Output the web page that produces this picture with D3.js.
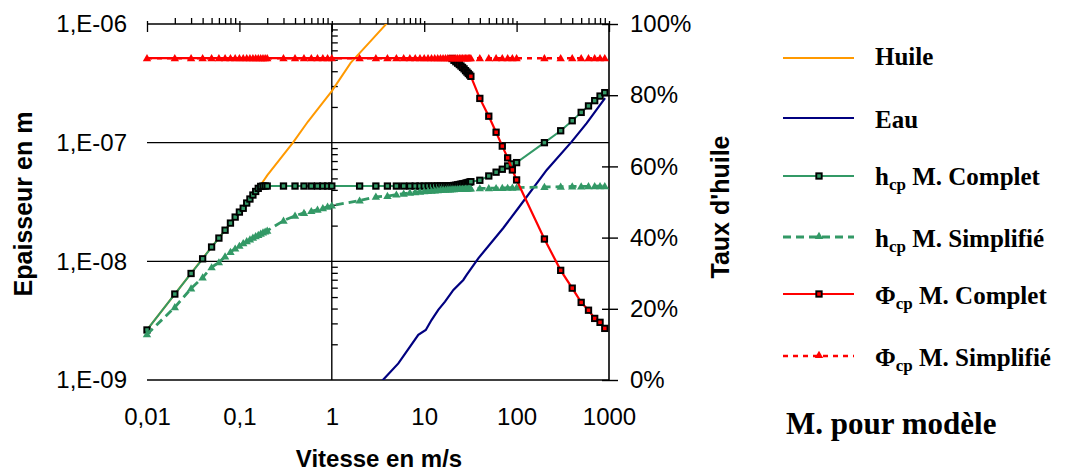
<!DOCTYPE html>
<html><head><meta charset="utf-8">
<script src="https://cdn.jsdelivr.net/npm/d3@7"></script>
<style>body{margin:0;background:#fff} svg{display:block}</style>
</head><body><svg id="c" width="1069" height="474"></svg>
<script>
// ---------------- DATA ----------------
const vitesse = [0.01,0.02,0.03,0.04,0.05,0.06,0.07,0.08,0.09,0.1,
  0.11,0.12,0.13,0.14,0.15,0.16,0.17,0.18,0.19,0.2,
  0.3,0.4,0.5,0.6,0.7,0.8,0.9,1,
  2,3,4,5,6,7,8,9,10,
  11,12,13,14,15,16,17,18,19,
  20,21,22,23,24,25,26,27,28,29,30,31,32,
  40,50,60,70,80,90,100,
  200,300,400,500,600,700,800,900];
const hComplet = [2.64e-9,5.3e-9,7.9e-9,1.05e-8,1.32e-8,1.57e-8,1.83e-8,2.1e-8,2.36e-8,2.6e-8,
  2.8e-8,3.1e-8,3.35e-8,3.62e-8,3.88e-8,4.12e-8,4.28e-8,4.31e-8,4.31e-8,4.31e-8,
  4.31e-8,4.31e-8,4.31e-8,4.31e-8,4.31e-8,4.31e-8,4.31e-8,4.31e-8,
  4.31e-8,4.31e-8,4.31e-8,4.31e-8,4.31e-8,4.31e-8,4.31e-8,4.31e-8,4.31e-8,
  4.31e-8,4.31e-8,4.31e-8,4.32e-8,4.32e-8,4.32e-8,4.32e-8,4.33e-8,4.33e-8,
  4.34e-8,4.36e-8,4.38e-8,4.41e-8,4.44e-8,4.47e-8,4.49e-8,4.52e-8,4.55e-8,4.58e-8,4.62e-8,4.65e-8,4.69e-8,
  4.82e-8,5.24e-8,5.64e-8,5.97e-8,6.37e-8,6.62e-8,6.79e-8,
  1.0e-7,1.26e-7,1.53e-7,1.8e-7,2.04e-7,2.26e-7,2.47e-7,2.64e-7];
const hSimplifie = [2.43e-9,4.1e-9,5.9e-9,7.3e-9,8.9e-9,9.8e-9,1.1e-8,1.2e-8,1.28e-8,1.35e-8,
  1.42e-8,1.48e-8,1.53e-8,1.58e-8,1.63e-8,1.67e-8,1.71e-8,1.75e-8,1.78e-8,1.81e-8,
  2.2e-8,2.42e-8,2.56e-8,2.65e-8,2.72e-8,2.8e-8,2.88e-8,2.95e-8,
  3.25e-8,3.5e-8,3.55e-8,3.65e-8,3.72e-8,3.78e-8,3.82e-8,3.86e-8,3.9e-8,
  3.92e-8,3.94e-8,3.96e-8,3.98e-8,4.0e-8,4.01e-8,4.02e-8,4.03e-8,4.04e-8,
  4.05e-8,4.05e-8,4.06e-8,4.06e-8,4.07e-8,4.07e-8,4.08e-8,4.08e-8,4.09e-8,4.09e-8,4.1e-8,4.1e-8,4.1e-8,
  4.12e-8,4.13e-8,4.14e-8,4.15e-8,4.16e-8,4.17e-8,4.18e-8,
  4.23e-8,4.25e-8,4.27e-8,4.28e-8,4.29e-8,4.3e-8,4.3e-8,4.3e-8];
const phiComplet = [90.4,90.4,90.4,90.4,90.4,90.4,90.4,90.4,90.4,90.4,
  90.4,90.4,90.4,90.4,90.4,90.4,90.4,90.4,90.4,90.4,
  90.4,90.4,90.4,90.4,90.4,90.4,90.4,90.4,
  90.4,90.4,90.4,90.4,90.4,90.4,90.4,90.4,90.4,
  90.4,90.4,90.4,90.4,90.4,90.4,90.4,90.4,90.4,
  90.3,89.8,89.4,89.0,88.6,88.2,87.8,87.4,86.9,86.5,86.1,85.7,85.3,
  79.1,74.1,69.6,65.7,62.4,59.0,56.2,
  39.6,30.8,25.8,21.8,19.6,17.3,16.2,14.5];
const phiSimplifie = [90.4,90.4,90.4,90.4,90.4,90.4,90.4,90.4,90.4,90.4,
  90.4,90.4,90.4,90.4,90.4,90.4,90.4,90.4,90.4,90.4,
  90.4,90.4,90.4,90.4,90.4,90.4,90.4,90.4,
  90.4,90.4,90.4,90.4,90.4,90.4,90.4,90.4,90.4,
  90.4,90.4,90.4,90.4,90.4,90.4,90.4,90.4,90.4,
  90.4,90.4,90.4,90.4,90.4,90.4,90.4,90.4,90.4,90.4,90.4,90.4,90.4,
  90.4,90.4,90.4,90.4,90.4,90.4,90.4,
  90.4,90.4,90.4,90.4,90.4,90.4,90.4,90.4];
const phiCompletMarkersFrom = 20;

const huileV = [0.01,0.02,0.05,0.1,0.17,0.2,0.38,0.55,0.78,1,1.6,2.6,4.2];
const huileH = [2.64e-9,5.3e-9,1.32e-8,2.6e-8,4.4e-8,5.3e-8,1.0e-7,1.5e-7,2.12e-7,2.72e-7,4.7e-7,7.1e-7,1.07e-6];

const eauV = [3.4,5.25,8.63,10.4,12.0,14.2,16.8,20.7,26.5,28.8,38.5,71.8,104,212,395,574,906];
const eauH = [9.6e-10,1.38e-9,2.4e-9,2.64e-9,3.2e-9,3.9e-9,4.57e-9,5.74e-9,6.97e-9,7.68e-9,1.06e-8,1.91e-8,2.8e-8,5.89e-8,1.02e-7,1.46e-7,2.37e-7];

const xTicks = [0.01,0.1,1,10,100,1000];
const xTickLabels = ["0,01","0,1","1","10","100","1000"];
const yTicks = [1e-9,1e-8,1e-7,1e-6];
const yTickLabels = ["1,E-09","1,E-08","1,E-07","1,E-06"];
const pctTicks = [0,20,40,60,80,100];
const pctTickLabels = ["0%","20%","40%","60%","80%","100%"];

const legendLabels = ["Huile","Eau","h","h","Φ","Φ"];
const legendSubs = ["","","cp","cp","cp","cp"];
const legendRest = ["","", " M. Complet"," M. Simplifié"," M. Complet"," M. Simplifié"];

// ---------------- CHART ----------------
const svg = d3.select("#c");
const W = 1069, H = 474;
svg.append("rect").attr("width", W).attr("height", H).attr("fill", "#fff");
const L = 147, R = 609, T = 24, B = 380;
const x = d3.scaleLog().domain([0.01, 1000]).range([L, R]);
const y = d3.scaleLog().domain([1e-9, 1e-6]).range([B, T]);
const y2 = d3.scaleLinear().domain([0, 100]).range([B, T]);

const C = {huile:"#FF9900", eau:"#000080", green:"#339966", red:"#FF0000"};
const sans = "'Liberation Sans', Arial, sans-serif";
const serif = "'Liberation Serif', 'Times New Roman', serif";

svg.append("clipPath").attr("id","clip").append("rect")
  .attr("x", L).attr("y", T).attr("width", R - L).attr("height", B - T);

// horizontal gridlines (major y)
svg.append("g").selectAll("line").data(yTicks.filter(v => v < 1e-6)).join("line")
  .attr("x1", L).attr("x2", R).attr("y1", d => y(d)).attr("y2", d => y(d))
  .attr("stroke", "#000").attr("stroke-width", 1.4);

// top axis (x axis at 1E-06) with minor ticks upwards
const topAx = svg.append("g").attr("transform", `translate(0,${T})`)
  .call(d3.axisTop(x).tickValues(x.ticks()).tickSize(6).tickFormat(""));
topAx.select(".domain").attr("stroke-width", 1.6).attr("d", `M${L},0H${R}`);
topAx.selectAll(".tick line").attr("stroke-width", 1.3)
  .filter(d => xTicks.includes(d)).attr("y1", -3).attr("y2", 8);

// vertical axis at x=1 with minor ticks pointing right
const midAx = svg.append("g").attr("transform", `translate(${x(1)},0)`)
  .call(d3.axisRight(y).tickValues(y.ticks().filter(v => !yTicks.includes(v))).tickSize(6).tickFormat(""));
midAx.select(".domain").attr("stroke-width", 1.4).attr("d", `M0,${T}V${B}`);
midAx.selectAll(".tick line").attr("stroke-width", 1.3);

// right axis (%)
const rAx = svg.append("g").attr("transform", `translate(${R},0)`)
  .call(d3.axisRight(y2).tickValues(pctTicks).tickSize(9).tickPadding(12)
    .tickFormat((d, i) => pctTickLabels[i]));
rAx.select(".domain").attr("stroke-width", 1.6).attr("d", `M0,${T}V${B}`);
rAx.selectAll(".tick line").attr("x1", -7).attr("stroke-width", 1.4);
rAx.selectAll("text").attr("font-family", sans).attr("font-size", 24).attr("fill", "#000");

// left labels
const lAx = svg.append("g").attr("transform", `translate(${L},0)`)
  .call(d3.axisLeft(y).tickValues(yTicks).tickSize(0).tickPadding(20)
    .tickFormat((d, i) => yTickLabels[i]));
lAx.select(".domain").remove();
lAx.selectAll("text").attr("font-family", sans).attr("font-size", 24).attr("fill", "#000");

// bottom labels
const bAx = svg.append("g").attr("transform", `translate(0,${B})`)
  .call(d3.axisBottom(x).tickValues(xTicks).tickSize(0).tickPadding(28)
    .tickFormat((d, i) => xTickLabels[i]));
bAx.select(".domain").remove();
bAx.selectAll("text").attr("font-family", sans).attr("font-size", 24).attr("fill", "#000");

// axis titles
svg.append("text").attr("transform", "translate(32,204) rotate(-90)")
  .attr("text-anchor", "middle").attr("font-family", sans).attr("font-weight", "bold")
  .attr("font-size", 25).text("Epaisseur en m");
svg.append("text").attr("transform", "translate(729,207) rotate(-90)")
  .attr("text-anchor", "middle").attr("font-family", sans).attr("font-weight", "bold")
  .attr("font-size", 25).text("Taux d'huile");
svg.append("text").attr("x", 379).attr("y", 467)
  .attr("text-anchor", "middle").attr("font-family", sans).attr("font-weight", "bold")
  .attr("font-size", 24).text("Vitesse en m/s");

// ---------------- SERIES ----------------
const rows = vitesse.map((v, i) => ({v, hc: hComplet[i], hs: hSimplifie[i], pc: phiComplet[i], ps: phiSimplifie[i]}));
const huile = huileV.map((v, i) => ({v, h: huileH[i]}));
const eau = eauV.map((v, i) => ({v, h: eauH[i]}));

const plot = svg.append("g");
const lineH = (acc) => d3.line().x(d => x(d.v)).y(d => y(acc(d)));
const lineP = (acc) => d3.line().x(d => x(d.v)).y(d => y2(acc(d)));

const triPath = "M0,-4.2L4.2,3L-4.2,3Z";
function squares(g, data, cx, cy, fill) {
  g.append("g").selectAll("rect").data(data).join("rect")
    .attr("x", d => cx(d) - 2.7).attr("y", d => cy(d) - 2.7)
    .attr("width", 5.4).attr("height", 5.4)
    .attr("fill", fill).attr("stroke", "#000").attr("stroke-width", 1.9);
}
function triangles(g, data, cx, cy, fill) {
  g.append("g").selectAll("path").data(data).join("path")
    .attr("transform", d => `translate(${cx(d)},${cy(d)})`)
    .attr("d", triPath).attr("fill", fill);
}

// Huile
plot.append("path").datum(huile).attr("clip-path", "url(#clip)")
  .attr("d", lineH(d => d.h)).attr("fill", "none").attr("stroke", C.huile).attr("stroke-width", 2);
// Eau
plot.append("path").datum(eau).attr("clip-path", "url(#clip)")
  .attr("d", lineH(d => d.h)).attr("fill", "none").attr("stroke", C.eau).attr("stroke-width", 2.2);
// h complet
plot.append("path").datum(rows).attr("d", lineH(d => d.hc))
  .attr("fill", "none").attr("stroke", C.green).attr("stroke-width", 2);
squares(plot, rows, d => x(d.v), d => y(d.hc), C.green);
// h simplifie
plot.append("path").datum(rows).attr("d", lineH(d => d.hs))
  .attr("fill", "none").attr("stroke", C.green).attr("stroke-width", 2.8).attr("stroke-dasharray", "8,5");
triangles(plot, rows, d => x(d.v), d => y(d.hs), C.green);
// phi complet
plot.append("path").datum(rows).attr("d", lineP(d => d.pc))
  .attr("fill", "none").attr("stroke", C.red).attr("stroke-width", 2.2);
squares(plot, rows.filter(d => d.v >= phiCompletMarkersFrom), d => x(d.v), d => y2(d.pc), C.red);
// phi simplifie
plot.append("path").datum(rows).attr("d", lineP(d => d.ps))
  .attr("fill", "none").attr("stroke", C.red).attr("stroke-width", 2.6).attr("stroke-dasharray", "5,5");
triangles(plot, rows, d => x(d.v), d => y2(d.ps), C.red);

// ---------------- LEGEND ----------------
const legY = [58, 118, 176, 237, 294, 356];
const legBase = [65, 128, 185, 247, 304, 366];
const legColor = [C.huile, C.eau, C.green, C.green, C.red, C.red];
const legDash = [null, null, null, "8,5", null, "5,5"];
const legWidth = [2, 2.2, 2, 2.8, 2.2, 2.4];
const legMarker = [null, null, "sq", "tri", "sq", "tri"];
const leg = svg.append("g");
legendLabels.forEach((lab, i) => {
  leg.append("line").attr("x1", 783).attr("x2", 854).attr("y1", legY[i]).attr("y2", legY[i])
    .attr("stroke", legColor[i]).attr("stroke-width", legWidth[i])
    .attr("stroke-dasharray", legDash[i]);
  if (legMarker[i] === "sq") squares(leg, [0], () => 819, () => legY[i], legColor[i]);
  if (legMarker[i] === "tri") triangles(leg, [0], () => 819, () => legY[i] - 1, legColor[i]);
  const t = leg.append("text").attr("x", 875).attr("y", legBase[i])
    .attr("font-family", serif).attr("font-weight", "bold").attr("font-size", 25).attr("fill", "#000");
  t.append("tspan").text(lab);
  if (legendSubs[i]) {
    t.append("tspan").attr("font-size", 17).attr("dy", 5).text(legendSubs[i]);
    t.append("tspan").attr("dy", -5).text(legendRest[i]);
  }
});
svg.append("text").attr("x", 786).attr("y", 434)
  .attr("font-family", serif).attr("font-weight", "bold").attr("font-size", 31)
  .text("M. pour modèle");
</script>
</body></html>
